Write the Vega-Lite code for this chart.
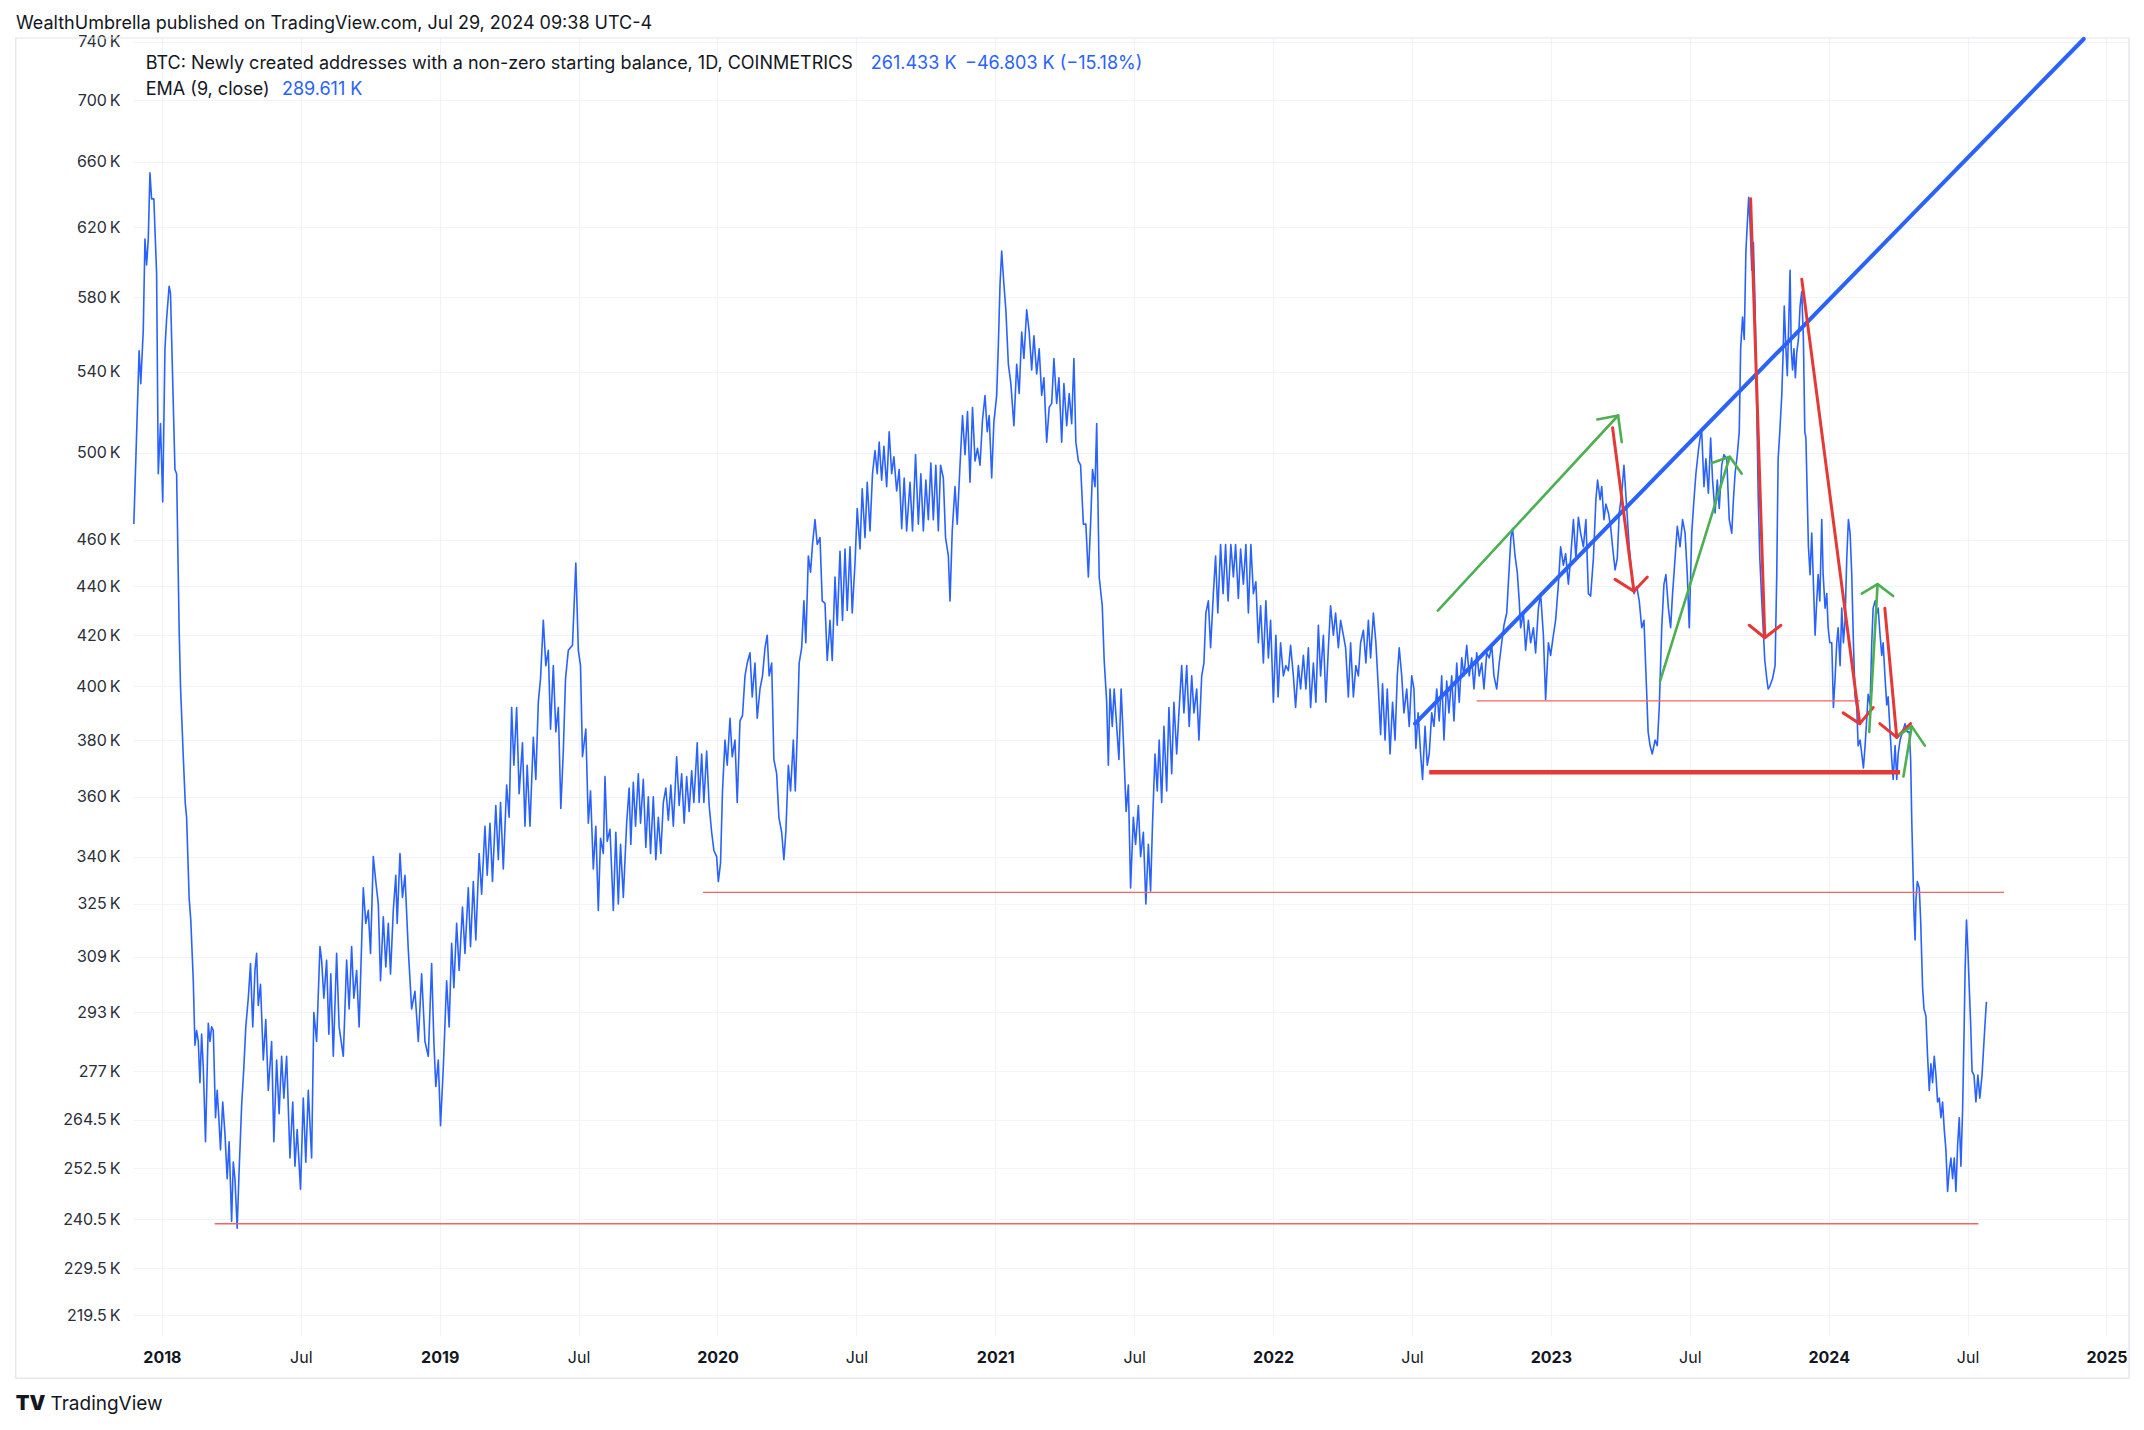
{
  "$schema": "https://vega.github.io/schema/vega-lite/v6.json",
  "width": 1996,
  "height": 1298,
  "autosize": {"type": "none"},
  "padding": {"left": 133, "top": 38, "right": 15, "bottom": 94},
  "background": "#ffffff",
  "config": {"view": {"stroke": null}, "font": "Inter"},
  "title": {"text": "WealthUmbrella published on TradingView.com, Jul 29, 2024 09:38 UTC-4", "anchor": "start", "frame": "group", "dx": -117, "dy": 25, "offset": 5, "baseline": "bottom", "fontSize": 18, "font": "Inter", "fontWeight": "normal", "color": "#131722"},
  "datasets": {
    "series": [
      {"t":2017.899,"v":467},{"t":2017.909,"v":509},{"t":2017.918,"v":551},{"t":2017.924,"v":534},{"t":2017.933,"v":562},{"t":2017.939,"v":613},{"t":2017.945,"v":598},{"t":2017.951,"v":613},{"t":2017.957,"v":653},{"t":2017.963,"v":637},{"t":2017.971,"v":637},{"t":2017.981,"v":593},{"t":2017.987,"v":490},{"t":2017.995,"v":514},{"t":2018.003,"v":477},{"t":2018.011,"v":552},{"t":2018.017,"v":568},{"t":2018.026,"v":586},{"t":2018.031,"v":582},{"t":2018.047,"v":492},{"t":2018.053,"v":490},{"t":2018.062,"v":423},{"t":2018.067,"v":400},{"t":2018.077,"v":374},{"t":2018.084,"v":358},{"t":2018.089,"v":353},{"t":2018.098,"v":327},{"t":2018.104,"v":320},{"t":2018.113,"v":302},{"t":2018.119,"v":284},{"t":2018.125,"v":288},{"t":2018.131,"v":285},{"t":2018.137,"v":274},{"t":2018.143,"v":287},{"t":2018.149,"v":278},{"t":2018.157,"v":259},{"t":2018.167,"v":290},{"t":2018.173,"v":285},{"t":2018.179,"v":289},{"t":2018.185,"v":288},{"t":2018.193,"v":265},{"t":2018.199,"v":272},{"t":2018.205,"v":265},{"t":2018.211,"v":257},{"t":2018.219,"v":269},{"t":2018.227,"v":261},{"t":2018.235,"v":250},{"t":2018.242,"v":259},{"t":2018.251,"v":240},{"t":2018.257,"v":254},{"t":2018.263,"v":250},{"t":2018.271,"v":238.5},{"t":2018.278,"v":252},{"t":2018.287,"v":268},{"t":2018.295,"v":278},{"t":2018.302,"v":289},{"t":2018.311,"v":297},{"t":2018.319,"v":307},{"t":2018.327,"v":289},{"t":2018.335,"v":305},{"t":2018.341,"v":310},{"t":2018.347,"v":295},{"t":2018.355,"v":301},{"t":2018.365,"v":280},{"t":2018.374,"v":291},{"t":2018.383,"v":272},{"t":2018.395,"v":285},{"t":2018.403,"v":259},{"t":2018.413,"v":280},{"t":2018.422,"v":266},{"t":2018.431,"v":281},{"t":2018.439,"v":270},{"t":2018.449,"v":281},{"t":2018.461,"v":255},{"t":2018.471,"v":269},{"t":2018.479,"v":253},{"t":2018.487,"v":262},{"t":2018.499,"v":247.5},{"t":2018.509,"v":270},{"t":2018.518,"v":254},{"t":2018.527,"v":272},{"t":2018.539,"v":255},{"t":2018.547,"v":293},{"t":2018.557,"v":285},{"t":2018.569,"v":312},{"t":2018.575,"v":308},{"t":2018.583,"v":297},{"t":2018.593,"v":308},{"t":2018.601,"v":287},{"t":2018.608,"v":304},{"t":2018.617,"v":281},{"t":2018.629,"v":310},{"t":2018.638,"v":289},{"t":2018.653,"v":281},{"t":2018.665,"v":308},{"t":2018.674,"v":294},{"t":2018.683,"v":312},{"t":2018.691,"v":297},{"t":2018.701,"v":305},{"t":2018.710,"v":289},{"t":2018.725,"v":330},{"t":2018.734,"v":319},{"t":2018.743,"v":323},{"t":2018.751,"v":310},{"t":2018.761,"v":340},{"t":2018.770,"v":332},{"t":2018.779,"v":325},{"t":2018.787,"v":302},{"t":2018.797,"v":321},{"t":2018.806,"v":306},{"t":2018.815,"v":319},{"t":2018.823,"v":304},{"t":2018.833,"v":323},{"t":2018.842,"v":334},{"t":2018.847,"v":319},{"t":2018.857,"v":341},{"t":2018.866,"v":327},{"t":2018.875,"v":334},{"t":2018.887,"v":311},{"t":2018.899,"v":294},{"t":2018.911,"v":299},{"t":2018.923,"v":285},{"t":2018.935,"v":304},{"t":2018.947,"v":285},{"t":2018.959,"v":281},{"t":2018.971,"v":307},{"t":2018.979,"v":285},{"t":2018.986,"v":273},{"t":2018.995,"v":280},{"t":2019.003,"v":263},{"t":2019.013,"v":278},{"t":2019.025,"v":302},{"t":2019.034,"v":289},{"t":2019.043,"v":313},{"t":2019.051,"v":300},{"t":2019.061,"v":319},{"t":2019.070,"v":305},{"t":2019.082,"v":324},{"t":2019.091,"v":310},{"t":2019.103,"v":330},{"t":2019.111,"v":312},{"t":2019.121,"v":332},{"t":2019.130,"v":314},{"t":2019.142,"v":341},{"t":2019.151,"v":328},{"t":2019.163,"v":350},{"t":2019.171,"v":334},{"t":2019.181,"v":351},{"t":2019.190,"v":332},{"t":2019.202,"v":357},{"t":2019.211,"v":339},{"t":2019.219,"v":358},{"t":2019.229,"v":336},{"t":2019.241,"v":364},{"t":2019.250,"v":353},{"t":2019.259,"v":392},{"t":2019.267,"v":371},{"t":2019.277,"v":392},{"t":2019.286,"v":361},{"t":2019.298,"v":379},{"t":2019.307,"v":350},{"t":2019.315,"v":371},{"t":2019.325,"v":350},{"t":2019.337,"v":381},{"t":2019.346,"v":366},{"t":2019.355,"v":394},{"t":2019.363,"v":403},{"t":2019.373,"v":426},{"t":2019.382,"v":408},{"t":2019.391,"v":414},{"t":2019.399,"v":384},{"t":2019.409,"v":408},{"t":2019.418,"v":383},{"t":2019.427,"v":392},{"t":2019.436,"v":356},{"t":2019.445,"v":376},{"t":2019.453,"v":403},{"t":2019.463,"v":414},{"t":2019.478,"v":416},{"t":2019.490,"v":450},{"t":2019.499,"v":414},{"t":2019.507,"v":408},{"t":2019.514,"v":374},{"t":2019.526,"v":384},{"t":2019.535,"v":351},{"t":2019.543,"v":362},{"t":2019.553,"v":336},{"t":2019.562,"v":350},{"t":2019.571,"v":323},{"t":2019.579,"v":346},{"t":2019.589,"v":341},{"t":2019.595,"v":367},{"t":2019.603,"v":345},{"t":2019.613,"v":349},{"t":2019.625,"v":323},{"t":2019.634,"v":348},{"t":2019.643,"v":325},{"t":2019.651,"v":344},{"t":2019.661,"v":327},{"t":2019.673,"v":351},{"t":2019.682,"v":363},
      {"t":2019.688,"v":344},{"t":2019.697,"v":365},{"t":2019.705,"v":350},{"t":2019.715,"v":368},{"t":2019.723,"v":351},{"t":2019.733,"v":366},{"t":2019.742,"v":343},{"t":2019.751,"v":360},{"t":2019.759,"v":341},{"t":2019.769,"v":360},{"t":2019.778,"v":339},{"t":2019.787,"v":353},{"t":2019.796,"v":341},{"t":2019.805,"v":358},{"t":2019.814,"v":363},{"t":2019.823,"v":352},{"t":2019.832,"v":364},{"t":2019.841,"v":350},{"t":2019.853,"v":374},{"t":2019.862,"v":357},{"t":2019.871,"v":368},{"t":2019.880,"v":351},{"t":2019.889,"v":367},{"t":2019.898,"v":355},{"t":2019.907,"v":369},{"t":2019.915,"v":358},{"t":2019.927,"v":379},{"t":2019.934,"v":358},{"t":2019.943,"v":375},{"t":2019.951,"v":358},{"t":2019.961,"v":376},{"t":2019.970,"v":357},{"t":2019.979,"v":348},{"t":2019.987,"v":342},{"t":2019.997,"v":340},{"t":2020.003,"v":332},{"t":2020.011,"v":338},{"t":2020.018,"v":362},{"t":2020.027,"v":380},{"t":2020.035,"v":371},{"t":2020.045,"v":388},{"t":2020.053,"v":374},{"t":2020.063,"v":380},{"t":2020.071,"v":358},{"t":2020.081,"v":387},{"t":2020.090,"v":389},{"t":2020.099,"v":404},{"t":2020.107,"v":409},{"t":2020.117,"v":413},{"t":2020.125,"v":396},{"t":2020.135,"v":409},{"t":2020.143,"v":388},{"t":2020.153,"v":399},{"t":2020.162,"v":404},{"t":2020.171,"v":415},{"t":2020.179,"v":420},{"t":2020.186,"v":404},{"t":2020.195,"v":409},{"t":2020.203,"v":373},{"t":2020.213,"v":368},{"t":2020.221,"v":353},{"t":2020.231,"v":348},{"t":2020.239,"v":339},{"t":2020.246,"v":348},{"t":2020.255,"v":371},{"t":2020.263,"v":362},{"t":2020.273,"v":380},{"t":2020.280,"v":362},{"t":2020.287,"v":382},{"t":2020.294,"v":409},{"t":2020.303,"v":415},{"t":2020.311,"v":434},{"t":2020.318,"v":417},{"t":2020.327,"v":453},{"t":2020.335,"v":446},{"t":2020.342,"v":458},{"t":2020.351,"v":469},{"t":2020.359,"v":458},{"t":2020.369,"v":461},{"t":2020.377,"v":434},{"t":2020.387,"v":433},{"t":2020.395,"v":410},{"t":2020.405,"v":426},{"t":2020.413,"v":410},{"t":2020.423,"v":444},{"t":2020.431,"v":424},{"t":2020.441,"v":455},{"t":2020.450,"v":426},{"t":2020.459,"v":456},{"t":2020.467,"v":430},{"t":2020.477,"v":457},{"t":2020.485,"v":429},{"t":2020.495,"v":450},{"t":2020.503,"v":474},{"t":2020.513,"v":456},{"t":2020.521,"v":483},{"t":2020.531,"v":461},{"t":2020.539,"v":486},{"t":2020.549,"v":464},{"t":2020.558,"v":490},{"t":2020.567,"v":501},{"t":2020.575,"v":490},{"t":2020.582,"v":505},{"t":2020.591,"v":487},{"t":2020.599,"v":503},{"t":2020.609,"v":484},{"t":2020.618,"v":510},{"t":2020.627,"v":490},{"t":2020.635,"v":498},{"t":2020.645,"v":482},{"t":2020.654,"v":492},{"t":2020.663,"v":465},{"t":2020.672,"v":488},{"t":2020.681,"v":464},{"t":2020.693,"v":486},{"t":2020.702,"v":464},{"t":2020.713,"v":499},{"t":2020.723,"v":467},{"t":2020.732,"v":490},{"t":2020.741,"v":464},{"t":2020.750,"v":487},{"t":2020.759,"v":469},{"t":2020.768,"v":495},{"t":2020.777,"v":469},{"t":2020.786,"v":494},{"t":2020.795,"v":464},{"t":2020.803,"v":494},{"t":2020.813,"v":488},{"t":2020.821,"v":461},{"t":2020.831,"v":453},{"t":2020.837,"v":434},{"t":2020.845,"v":464},{"t":2020.855,"v":484},{"t":2020.863,"v":467},{"t":2020.873,"v":494},{"t":2020.882,"v":518},{"t":2020.891,"v":499},{"t":2020.900,"v":520},{"t":2020.909,"v":486},{"t":2020.918,"v":522},{"t":2020.927,"v":496},{"t":2020.936,"v":502},{"t":2020.945,"v":494},{"t":2020.954,"v":516},{"t":2020.963,"v":528},{"t":2020.971,"v":510},{"t":2020.978,"v":518},{"t":2020.987,"v":488},{"t":2020.995,"v":515},{"t":2021.005,"v":528},{"t":2021.011,"v":554},{"t":2021.017,"v":587},{"t":2021.023,"v":606},{"t":2021.031,"v":587},{"t":2021.038,"v":573},{"t":2021.047,"v":544},{"t":2021.056,"v":534},{"t":2021.067,"v":513},{"t":2021.077,"v":544},{"t":2021.086,"v":529},{"t":2021.095,"v":561},{"t":2021.103,"v":547},{"t":2021.113,"v":573},{"t":2021.122,"v":561},{"t":2021.131,"v":541},{"t":2021.139,"v":559},{"t":2021.149,"v":539},{"t":2021.158,"v":552},{"t":2021.167,"v":528},{"t":2021.175,"v":537},{"t":2021.185,"v":505},{"t":2021.194,"v":522},{"t":2021.203,"v":524},{"t":2021.211,"v":547},{"t":2021.221,"v":524},{"t":2021.229,"v":537},{"t":2021.239,"v":505},{"t":2021.247,"v":534},{"t":2021.257,"v":513},{"t":2021.266,"v":529},{"t":2021.275,"v":514},{"t":2021.283,"v":547},{"t":2021.290,"v":505},{"t":2021.299,"v":496},{"t":2021.307,"v":494},{"t":2021.317,"v":467},{"t":2021.326,"v":467},{"t":2021.335,"v":444},{"t":2021.343,"v":467},{"t":2021.350,"v":492},{"t":2021.359,"v":484},{"t":2021.365,"v":514},{"t":2021.374,"v":444},
      {"t":2021.385,"v":432},{"t":2021.392,"v":410},{"t":2021.401,"v":394},{"t":2021.407,"v":371},{"t":2021.413,"v":399},{"t":2021.421,"v":385},{"t":2021.428,"v":399},{"t":2021.437,"v":385},{"t":2021.445,"v":373},{"t":2021.453,"v":399},{"t":2021.461,"v":380},{"t":2021.471,"v":355},{"t":2021.479,"v":364},{"t":2021.487,"v":330},{"t":2021.497,"v":353},{"t":2021.505,"v":344},{"t":2021.515,"v":357},{"t":2021.523,"v":340},{"t":2021.533,"v":348},{"t":2021.542,"v":325},{"t":2021.551,"v":344},{"t":2021.559,"v":329},{"t":2021.566,"v":351},{"t":2021.575,"v":375},{"t":2021.583,"v":362},{"t":2021.590,"v":380},{"t":2021.599,"v":358},{"t":2021.607,"v":385},{"t":2021.617,"v":362},{"t":2021.625,"v":392},{"t":2021.635,"v":368},{"t":2021.643,"v":394},{"t":2021.653,"v":375},{"t":2021.661,"v":390},{"t":2021.671,"v":408},{"t":2021.679,"v":390},{"t":2021.689,"v":408},{"t":2021.698,"v":385},{"t":2021.707,"v":404},{"t":2021.715,"v":390},{"t":2021.725,"v":399},{"t":2021.733,"v":380},{"t":2021.743,"v":404},{"t":2021.751,"v":409},{"t":2021.758,"v":429},{"t":2021.767,"v":434},{"t":2021.775,"v":415},{"t":2021.785,"v":437},{"t":2021.793,"v":453},{"t":2021.801,"v":429},{"t":2021.811,"v":458},{"t":2021.820,"v":437},{"t":2021.829,"v":458},{"t":2021.838,"v":434},{"t":2021.848,"v":458},{"t":2021.857,"v":444},{"t":2021.865,"v":458},{"t":2021.875,"v":435},{"t":2021.883,"v":456},{"t":2021.893,"v":441},{"t":2021.902,"v":458},{"t":2021.911,"v":429},{"t":2021.920,"v":458},{"t":2021.929,"v":437},{"t":2021.938,"v":442},{"t":2021.947,"v":417},{"t":2021.955,"v":432},{"t":2021.965,"v":409},{"t":2021.974,"v":434},{"t":2021.983,"v":411},{"t":2021.991,"v":426},{"t":2022.001,"v":394},{"t":2022.010,"v":420},{"t":2022.018,"v":396},{"t":2022.027,"v":417},{"t":2022.037,"v":404},{"t":2022.046,"v":408},{"t":2022.055,"v":406},{"t":2022.063,"v":416},{"t":2022.073,"v":404},{"t":2022.081,"v":392},{"t":2022.091,"v":408},{"t":2022.099,"v":399},{"t":2022.109,"v":412},{"t":2022.118,"v":399},{"t":2022.127,"v":415},{"t":2022.135,"v":392},{"t":2022.145,"v":409},{"t":2022.154,"v":394},{"t":2022.163,"v":424},{"t":2022.171,"v":404},{"t":2022.181,"v":420},{"t":2022.190,"v":394},{"t":2022.199,"v":415},{"t":2022.207,"v":432},{"t":2022.217,"v":420},{"t":2022.225,"v":429},{"t":2022.235,"v":415},{"t":2022.243,"v":426},{"t":2022.253,"v":420},{"t":2022.261,"v":415},{"t":2022.271,"v":396},{"t":2022.279,"v":417},{"t":2022.289,"v":396},{"t":2022.298,"v":408},{"t":2022.307,"v":404},{"t":2022.315,"v":417},{"t":2022.325,"v":422},{"t":2022.334,"v":409},{"t":2022.343,"v":426},{"t":2022.351,"v":411},{"t":2022.361,"v":429},{"t":2022.370,"v":417},{"t":2022.379,"v":399},{"t":2022.387,"v":382},{"t":2022.394,"v":401},{"t":2022.403,"v":380},{"t":2022.411,"v":399},{"t":2022.421,"v":375},{"t":2022.430,"v":394},{"t":2022.439,"v":380},{"t":2022.447,"v":404},{"t":2022.454,"v":415},{"t":2022.463,"v":404},{"t":2022.471,"v":390},{"t":2022.481,"v":399},{"t":2022.490,"v":385},{"t":2022.499,"v":404},{"t":2022.507,"v":399},{"t":2022.514,"v":377},{"t":2022.522,"v":390},{"t":2022.531,"v":375},{"t":2022.538,"v":366},{"t":2022.547,"v":385},{"t":2022.555,"v":371},{"t":2022.562,"v":375},{"t":2022.571,"v":390},{"t":2022.579,"v":385},{"t":2022.589,"v":399},{"t":2022.598,"v":387},{"t":2022.607,"v":404},{"t":2022.615,"v":380},{"t":2022.625,"v":402},{"t":2022.633,"v":390},{"t":2022.643,"v":404},{"t":2022.651,"v":387},{"t":2022.661,"v":409},{"t":2022.670,"v":394},{"t":2022.679,"v":411},{"t":2022.687,"v":404},{"t":2022.697,"v":416},{"t":2022.706,"v":404},{"t":2022.715,"v":411},{"t":2022.723,"v":399},{"t":2022.733,"v":413},{"t":2022.742,"v":404},{"t":2022.751,"v":409},{"t":2022.759,"v":399},{"t":2022.769,"v":413},{"t":2022.778,"v":411},{"t":2022.787,"v":416},{"t":2022.795,"v":404},{"t":2022.805,"v":399},{"t":2022.814,"v":409},
      {"t":2022.823,"v":417},{"t":2022.831,"v":424},{"t":2022.841,"v":429},{"t":2022.850,"v":448},{"t":2022.856,"v":461},{"t":2022.862,"v":465},{"t":2022.871,"v":453},{"t":2022.879,"v":446},{"t":2022.886,"v":434},{"t":2022.891,"v":423},{"t":2022.901,"v":429},{"t":2022.909,"v":414},{"t":2022.919,"v":426},{"t":2022.927,"v":417},{"t":2022.937,"v":423},{"t":2022.945,"v":413},{"t":2022.955,"v":431},{"t":2022.963,"v":437},{"t":2022.973,"v":420},{"t":2022.981,"v":395},{"t":2022.991,"v":417},{"t":2022.999,"v":412},{"t":2023.009,"v":420},{"t":2023.017,"v":426},{"t":2023.027,"v":441},{"t":2023.035,"v":457},{"t":2023.045,"v":449},{"t":2023.053,"v":454},{"t":2023.063,"v":441},{"t":2023.071,"v":452},{"t":2023.081,"v":469},{"t":2023.090,"v":452},{"t":2023.099,"v":470},{"t":2023.107,"v":463},{"t":2023.117,"v":457},{"t":2023.126,"v":469},{"t":2023.135,"v":437},{"t":2023.143,"v":436},{"t":2023.153,"v":452},{"t":2023.162,"v":478},{"t":2023.168,"v":487},{"t":2023.177,"v":478},{"t":2023.183,"v":484},{"t":2023.191,"v":469},{"t":2023.198,"v":476},{"t":2023.207,"v":472},{"t":2023.215,"v":466},{"t":2023.222,"v":457},{"t":2023.231,"v":447},{"t":2023.239,"v":452},{"t":2023.246,"v":472},{"t":2023.255,"v":481},{"t":2023.263,"v":494},{"t":2023.273,"v":474},{"t":2023.282,"v":457},{"t":2023.291,"v":445},{"t":2023.299,"v":437},{"t":2023.309,"v":440},{"t":2023.318,"v":434},{"t":2023.327,"v":423},{"t":2023.335,"v":426},{"t":2023.345,"v":397},{"t":2023.350,"v":383},{"t":2023.357,"v":378},{"t":2023.365,"v":375},{"t":2023.375,"v":380},{"t":2023.383,"v":378},{"t":2023.390,"v":392},{"t":2023.399,"v":423},{"t":2023.407,"v":441},{"t":2023.414,"v":445},{"t":2023.423,"v":431},{"t":2023.431,"v":423},{"t":2023.438,"v":437},{"t":2023.447,"v":452},{"t":2023.455,"v":466},{"t":2023.465,"v":457},{"t":2023.474,"v":469},{"t":2023.483,"v":463},{"t":2023.491,"v":445},{"t":2023.498,"v":423},{"t":2023.507,"v":463},{"t":2023.515,"v":478},{"t":2023.522,"v":490},{"t":2023.531,"v":501},{"t":2023.537,"v":507},{"t":2023.543,"v":510},{"t":2023.551,"v":484},{"t":2023.558,"v":497},{"t":2023.567,"v":481},{"t":2023.575,"v":507},{"t":2023.582,"v":487},{"t":2023.591,"v":472},{"t":2023.599,"v":487},{"t":2023.606,"v":474},{"t":2023.615,"v":494},{"t":2023.623,"v":499},{"t":2023.633,"v":497},{"t":2023.642,"v":469},{"t":2023.651,"v":463},{"t":2023.657,"v":478},{"t":2023.663,"v":490},{"t":2023.671,"v":499},{"t":2023.678,"v":510},{"t":2023.683,"v":552},{"t":2023.690,"v":569},{"t":2023.696,"v":557},{"t":2023.702,"v":606},{"t":2023.707,"v":622},{"t":2023.712,"v":638},{"t":2023.717,"v":622},{"t":2023.723,"v":595},{"t":2023.729,"v":611},{"t":2023.735,"v":575},{"t":2023.741,"v":523},{"t":2023.746,"v":481},{"t":2023.752,"v":452},{"t":2023.759,"v":434},{"t":2023.764,"v":423},{"t":2023.770,"v":410},{"t":2023.777,"v":403},{"t":2023.782,"v":399},{"t":2023.788,"v":400},{"t":2023.798,"v":403},{"t":2023.807,"v":408},{"t":2023.813,"v":445},{"t":2023.818,"v":497},{"t":2023.824,"v":510},{"t":2023.831,"v":528},{"t":2023.836,"v":550},{"t":2023.840,"v":575},{"t":2023.846,"v":552},{"t":2023.851,"v":538},{"t":2023.856,"v":565},{"t":2023.861,"v":595},{"t":2023.865,"v":552},{"t":2023.870,"v":541},{"t":2023.875,"v":552},{"t":2023.880,"v":537},{"t":2023.885,"v":550},{"t":2023.891,"v":557},{"t":2023.897,"v":575},{"t":2023.903,"v":583},{"t":2023.909,"v":557},{"t":2023.914,"v":510},{"t":2023.918,"v":507},{"t":2023.927,"v":457},{"t":2023.933,"v":445},{"t":2023.939,"v":463},{"t":2023.944,"v":445},{"t":2023.951,"v":420},{"t":2023.957,"v":434},{"t":2023.962,"v":445},{"t":2023.968,"v":434},{"t":2023.975,"v":469},{"t":2023.980,"v":445},{"t":2023.987,"v":431},{"t":2023.993,"v":437},{"t":2023.998,"v":423},{"t":2024.004,"v":417},{"t":2024.011,"v":417},{"t":2024.017,"v":392},{"t":2024.023,"v":403},{"t":2024.029,"v":417},{"t":2024.034,"v":423},{"t":2024.041,"v":408},{"t":2024.047,"v":431},{"t":2024.053,"v":417},{"t":2024.059,"v":426},{"t":2024.065,"v":452},{"t":2024.071,"v":469},{"t":2024.077,"v":463},{"t":2024.083,"v":445},{"t":2024.089,"v":417},{"t":2024.095,"v":396},{"t":2024.101,"v":392},{"t":2024.106,"v":378},{"t":2024.113,"v":380},{"t":2024.119,"v":375},{"t":2024.125,"v":370},{"t":2024.131,"v":378},{"t":2024.137,"v":388},{"t":2024.142,"v":397},{"t":2024.149,"v":393},{"t":2024.155,"v":417},{"t":2024.160,"v":431},{"t":2024.167,"v":434},{"t":2024.173,"v":429},{"t":2024.178,"v":431},{"t":2024.185,"v":420},{"t":2024.191,"v":412},{"t":2024.196,"v":417},{"t":2024.203,"v":403},{"t":2024.209,"v":393},{"t":2024.214,"v":396},{"t":2024.221,"v":383},{"t":2024.227,"v":373},{"t":2024.232,"v":366},{"t":2024.239,"v":378},{"t":2024.245,"v":366},{"t":2024.250,"v":375},{"t":2024.257,"v":380},{"t":2024.266,"v":383},{"t":2024.275,"v":386},{"t":2024.283,"v":383},{"t":2024.290,"v":383},{"t":2024.295,"v":373},{"t":2024.299,"v":352},{"t":2024.303,"v":337},{"t":2024.307,"v":322},{"t":2024.311,"v":314},{"t":2024.314,"v":326},{"t":2024.319,"v":332},{"t":2024.326,"v":330},{"t":2024.331,"v":320},{"t":2024.338,"v":300},{"t":2024.343,"v":294},{"t":2024.350,"v":292},{"t":2024.356,"v":281},{"t":2024.362,"v":272},{"t":2024.368,"v":279},{"t":2024.374,"v":274},{"t":2024.380,"v":281},{"t":2024.386,"v":276},{"t":2024.392,"v":269},{"t":2024.398,"v":270},{"t":2024.404,"v":265},{"t":2024.410,"v":269},{"t":2024.416,"v":262},{"t":2024.422,"v":257},{"t":2024.428,"v":247},{"t":2024.434,"v":252},{"t":2024.440,"v":255},{"t":2024.446,"v":250},{"t":2024.452,"v":255},{"t":2024.458,"v":247},{"t":2024.464,"v":258},{"t":2024.470,"v":265},{"t":2024.476,"v":253},{"t":2024.482,"v":267},{"t":2024.487,"v":286},{"t":2024.491,"v":305},{"t":2024.496,"v":320},{"t":2024.501,"v":311},{"t":2024.506,"v":300},{"t":2024.511,"v":290},{"t":2024.516,"v":277},{"t":2024.523,"v":276},{"t":2024.530,"v":269},{"t":2024.537,"v":276},{"t":2024.544,"v":270},{"t":2024.552,"v":276},{"t":2024.559,"v":285},{"t":2024.566,"v":294},{"t":2024.568,"v":296}
    ],
    "notes": [
      {"id":"L1","kind":"level","o":0,"t":2018.190,"v":239.5},{"id":"L1","kind":"level","o":1,"t":2024.539,"v":239.5},
      {"id":"L2","kind":"level","o":0,"t":2019.948,"v":328.6},{"id":"L2","kind":"level","o":1,"t":2024.631,"v":328.6},
      {"id":"L3","kind":"level","o":0,"t":2022.733,"v":394.5},{"id":"L3","kind":"level","o":1,"t":2024.112,"v":394.5},
      {"id":"S1","kind":"support","o":0,"t":2022.562,"v":368.5},{"id":"S1","kind":"support","o":1,"t":2024.257,"v":368.5},
      {"id":"T1","kind":"trend","o":0,"t":2022.511,"v":386},{"id":"T1","kind":"trend","o":1,"t":2024.918,"v":742},
      {"id":"G1","kind":"up","o":0,"t":2022.593,"v":430},{"id":"G1","kind":"up","o":1,"t":2023.242,"v":518},
      {"id":"G1h","kind":"up","o":0,"t":2023.167,"v":516},{"id":"G1h","kind":"up","o":1,"t":2023.242,"v":518},{"id":"G1h","kind":"up","o":2,"t":2023.255,"v":505},
      {"id":"G2","kind":"up","o":0,"t":2023.393,"v":402},{"id":"G2","kind":"up","o":1,"t":2023.644,"v":498},
      {"id":"G2h","kind":"up","o":0,"t":2023.579,"v":495},{"id":"G2h","kind":"up","o":1,"t":2023.644,"v":498},{"id":"G2h","kind":"up","o":2,"t":2023.687,"v":490},
      {"id":"G3","kind":"up","o":0,"t":2024.146,"v":383},{"id":"G3","kind":"up","o":1,"t":2024.176,"v":441},
      {"id":"G3h","kind":"up","o":0,"t":2024.119,"v":437},{"id":"G3h","kind":"up","o":1,"t":2024.176,"v":441},{"id":"G3h","kind":"up","o":2,"t":2024.232,"v":436},
      {"id":"G4","kind":"up","o":0,"t":2024.269,"v":367},{"id":"G4","kind":"up","o":1,"t":2024.299,"v":385},
      {"id":"G4h","kind":"up","o":0,"t":2024.256,"v":382},{"id":"G4h","kind":"up","o":1,"t":2024.299,"v":385},{"id":"G4h","kind":"up","o":2,"t":2024.346,"v":378},
      {"id":"R1","kind":"down","o":0,"t":2023.222,"v":512},{"id":"R1","kind":"down","o":1,"t":2023.299,"v":438},
      {"id":"R1h","kind":"down","o":0,"t":2023.231,"v":443},{"id":"R1h","kind":"down","o":1,"t":2023.299,"v":438},{"id":"R1h","kind":"down","o":2,"t":2023.347,"v":444},
      {"id":"R2","kind":"down","o":0,"t":2023.719,"v":637},{"id":"R2","kind":"down","o":1,"t":2023.770,"v":419},
      {"id":"R2h","kind":"down","o":0,"t":2023.714,"v":424},{"id":"R2h","kind":"down","o":1,"t":2023.770,"v":419},{"id":"R2h","kind":"down","o":2,"t":2023.828,"v":424},
      {"id":"R3","kind":"down","o":0,"t":2023.903,"v":590},{"id":"R3","kind":"down","o":1,"t":2024.112,"v":386},
      {"id":"R3h","kind":"down","o":0,"t":2024.052,"v":390},{"id":"R3h","kind":"down","o":1,"t":2024.112,"v":386},{"id":"R3h","kind":"down","o":2,"t":2024.160,"v":392},
      {"id":"R4","kind":"down","o":0,"t":2024.202,"v":431},{"id":"R4","kind":"down","o":1,"t":2024.245,"v":381},
      {"id":"R4h","kind":"down","o":0,"t":2024.184,"v":386},{"id":"R4h","kind":"down","o":1,"t":2024.245,"v":381},{"id":"R4h","kind":"down","o":2,"t":2024.295,"v":386}
    ],
    "legend": [
      {"t":2017.942,"v":724.5,"role":"name","text":"BTC: Newly created addresses with a non-zero starting balance, 1D, COINMETRICS"},
      {"t":2020.552,"v":724.5,"role":"value","text":"261.433 K"},
      {"t":2020.891,"v":724.5,"role":"value","text":"−46.803 K (−15.18%)"},
      {"t":2017.942,"v":706.7,"role":"name","text":"EMA (9, close)"},
      {"t":2018.432,"v":706.7,"role":"value","text":"289.611 K"}
    ],
    "brand": [
      {"t":2017.474,"v":201.6,"part":"logo","text":"TV"},
      {"t":2017.599,"v":201.6,"part":"name","text":"TradingView"}
    ],
    "frame": [
      {"t":2017.474,"t2":2025.081,"v":742.7,"v2":206.7}
    ]
  },
  "encoding": {
    "x": {"field": "t", "type": "quantitative",
      "scale": {"domain": [2017.896, 2025.081], "nice": false, "zero": false},
      "axis": {"title": null, "values": [2018, 2018.5, 2019, 2019.5, 2020, 2020.5, 2021, 2021.5, 2022, 2022.5, 2023, 2023.5, 2024, 2024.5, 2025],
        "labelExpr": "datum.value % 1 === 0 ? format(datum.value, 'd') : 'Jul'",
        "labelFontWeight": {"condition": {"test": "datum.value % 1 === 0", "value": "bold"}, "value": "normal"},
        "labelFont": "Inter", "labelFontSize": 16, "labelColor": "#131722", "labelPadding": 13,
        "labelFlush": false, "labelOverlap": false, "labelBound": false,
        "grid": true, "gridColor": "#f0f3fa", "gridWidth": 1.2, "domain": false, "ticks": false, "tickSize": 0}},
    "y": {"field": "v", "type": "quantitative",
      "scale": {"type": "log", "domain": [215.16, 742.7], "nice": false},
      "axis": {"title": null, "values": [219.5, 229.5, 240.5, 252.5, 264.5, 277, 293, 309, 325, 340, 360, 380, 400, 420, 440, 460, 500, 540, 580, 620, 660, 700, 740],
        "labelExpr": "datum.value + '\u2009K'",
        "labelFont": "Inter", "labelFontSize": 16, "labelColor": "#2a2e39", "labelPadding": 13,
        "labelOverlap": false, "labelFlush": false,
        "grid": true, "gridColor": "#f0f3fa", "gridWidth": 1.2, "domain": false, "ticks": false, "tickSize": 0}}
  },
  "layer": [
    {"data": {"name": "frame"}, "mark": {"type": "rect", "fill": null, "fillOpacity": 0, "stroke": "#e0e3eb", "strokeWidth": 1.2},
     "encoding": {"x2": {"field": "t2"}, "y2": {"field": "v2"}}},
    {"data": {"name": "series"}, "mark": {"type": "line", "color": "#2962ff", "strokeWidth": 1.6, "strokeJoin": "round"}, "encoding": {}},
    {"data": {"name": "notes"}, "transform": [{"filter": "datum.kind === 'level'"}],
     "mark": {"type": "line", "color": "#f06464", "strokeWidth": 1.4},
     "encoding": {"detail": {"field": "id"}, "order": {"field": "o"}}},
    {"data": {"name": "notes"}, "transform": [{"filter": "datum.kind === 'support'"}],
     "mark": {"type": "line", "color": "#e53935", "strokeWidth": 4.5},
     "encoding": {"detail": {"field": "id"}, "order": {"field": "o"}}},
    {"data": {"name": "notes"}, "transform": [{"filter": "datum.kind === 'trend'"}],
     "mark": {"type": "line", "color": "#2962ff", "strokeWidth": 4, "strokeCap": "round"},
     "encoding": {"detail": {"field": "id"}, "order": {"field": "o"}}},
    {"data": {"name": "notes"}, "transform": [{"filter": "datum.kind === 'down'"}],
     "mark": {"type": "line", "color": "#e53935", "strokeWidth": 3, "strokeCap": "round", "strokeJoin": "round"},
     "encoding": {"detail": {"field": "id"}, "order": {"field": "o"}}},
    {"data": {"name": "notes"}, "transform": [{"filter": "datum.kind === 'up'"}],
     "mark": {"type": "line", "color": "#4caf50", "strokeWidth": 2.6, "strokeCap": "round", "strokeJoin": "round"},
     "encoding": {"detail": {"field": "id"}, "order": {"field": "o"}}},
    {"data": {"name": "legend"}, "mark": {"type": "text", "align": "left", "baseline": "middle", "font": "Inter", "fontSize": 18},
     "encoding": {"text": {"field": "text"}, "color": {"field": "role", "type": "nominal", "scale": {"domain": ["name", "value"], "range": ["#131722", "#2962ff"]}, "legend": null}}},
    {"data": {"name": "brand"}, "transform": [{"filter": "datum.part === 'logo'"}],
     "mark": {"type": "text", "align": "left", "baseline": "middle", "font": "Inter", "fontSize": 20, "fontWeight": 900, "color": "#131722"},
     "encoding": {"text": {"field": "text"}}},
    {"data": {"name": "brand"}, "transform": [{"filter": "datum.part === 'name'"}],
     "mark": {"type": "text", "align": "left", "baseline": "middle", "font": "Inter", "fontSize": 19, "color": "#131722"},
     "encoding": {"text": {"field": "text"}}}
  ]
}
